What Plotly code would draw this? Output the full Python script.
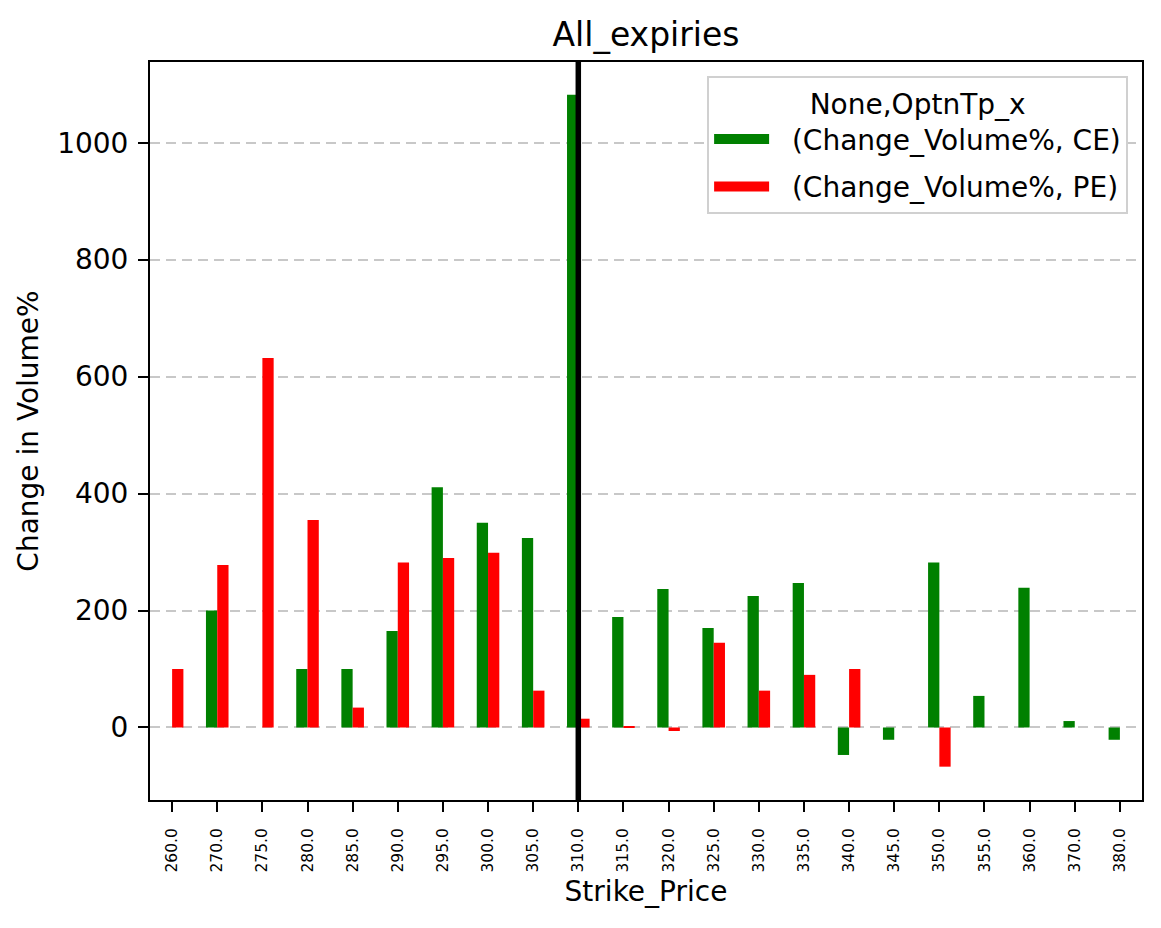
import plotly.graph_objects as go

# strike prices (categories) and % change in volume per option type
strikes = ["260.0", "270.0", "275.0", "280.0", "285.0", "290.0", "295.0", "300.0",
           "305.0", "310.0", "315.0", "320.0", "325.0", "330.0", "335.0", "340.0",
           "345.0", "350.0", "355.0", "360.0", "370.0", "380.0"]
ce_change = [0, 200, 0, 100, 100, 165, 411, 350, 324, 1082, 189, 237, 170, 225,
             247, -47, -21, 282, 54, 239, 11, -21]
pe_change = [100, 278, 632, 355, 34, 282, 290, 299, 63, 15, 1, -6, 145, 63,
             90, 100, 0, -67, 0, 0, 0, 0]
spot_strike = "310.0"
series = [("(Change_Volume%, CE)", ce_change, "green"),
          ("(Change_Volume%, PE)", pe_change, "red")]

font = "DejaVu Sans"

fig = go.Figure()
for name, vals, col in series:
    fig.add_trace(go.Bar(x=strikes, y=vals, name=name, showlegend=False,
                         marker=dict(color=col, line=dict(width=0))))
# legend entries with wide rectangular patches (like matplotlib)
for name, vals, col in series:
    fig.add_trace(go.Scatter(x=[None], y=[None], mode="lines",
                             name="\u00a0\u00a0" + name,
                             legendgroup=name, line=dict(color=col, width=20)))

# vertical line at the spot strike
fig.add_shape(type="line", xref="x", yref="paper",
              x0=strikes.index(spot_strike), x1=strikes.index(spot_strike),
              y0=0, y1=1, line=dict(color="black", width=5.5))

# page body has an 8px margin, so the figure is shrunk by that much
fig.update_layout(
    width=1153, height=920,
    margin=dict(l=142, r=19, t=54, b=128),
    paper_bgcolor="white", plot_bgcolor="white",
    font=dict(family=font, color="black", size=28),
    barmode="group", bargap=0.5, bargroupgap=0,
    title=dict(text="All_expiries", xref="paper", x=0.5, xanchor="center",
               y=0.971, yanchor="middle", font=dict(size=33)),
    legend=dict(
        title=dict(text="None,OptnTp_x", side="top center", font=dict(size=28)),
        x=0.986, xanchor="right", y=0.981, yanchor="top",
        bgcolor="white", bordercolor="#d0d0d0", borderwidth=2,
        font=dict(size=28), itemwidth=55, tracegroupgap=8,
    ),
)

fig.update_xaxes(
    type="category", range=[-0.49, 21.49],
    title=dict(text="Strike_Price", font=dict(size=28), standoff=10),
    tickangle=-90, tickfont=dict(size=15.5), ticklabelstandoff=10,
    ticks="outside", ticklen=10, tickwidth=2, tickcolor="black",
    showline=True, linecolor="black", linewidth=2, mirror=True,
    showgrid=False,
)
fig.update_yaxes(
    range=[-124, 1138],
    title=dict(text="Change in Volume%", font=dict(size=28), standoff=10),
    tickvals=[0, 200, 400, 600, 800, 1000], tickfont=dict(size=28),
    ticklabelstandoff=4,
    ticks="outside", ticklen=10, tickwidth=2, tickcolor="black",
    showline=True, linecolor="black", linewidth=2, mirror=True,
    showgrid=True, gridcolor="#c8c8c8", griddash="10px,6px", gridwidth=2,
    zeroline=False,
)

fig.write_html("out.html")
